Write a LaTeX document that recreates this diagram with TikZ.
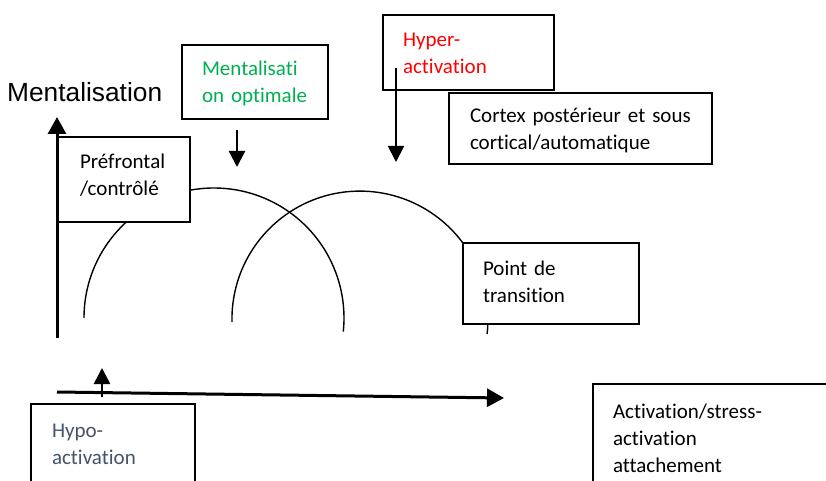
\documentclass[tikz,border=0pt]{standalone}
\usepackage{fontspec}
\setmainfont{Carlito}[Ligatures={NoCommon}]
\newfontfamily\arialfont{Liberation Sans}
\usetikzlibrary{arrows.meta}
\definecolor{optgreen}{RGB}{0,176,80}
\definecolor{hypoblue}{RGB}{68,84,106}

\begin{document}
\begin{tikzpicture}[x=1pt, y=-1pt,
    box/.style ={draw, line width=1.7pt, fill=white, anchor=north west, outer sep=0pt,
      inner ysep=0pt, inner xsep=20pt, align=left, font=\fontsize{21}{27}\selectfont},
    axis/.style ={line width=3pt, -{Triangle[width=18pt,length=17pt]}},
    pointer/.style ={line width=2.3pt, -{Triangle[width=16pt,length=16pt]}},
    curve/.style ={line width=1.4pt}]
   \useasboundingbox (0,0) rectangle (826,481);
   \clip (0,0) rectangle (826,481);

   \draw[curve] (84,318) arc[start angle=180, end angle=366, radius=130];
   \draw[curve] (232,322) arc[start angle=178.7, end angle=366.7, radius=128];

   \node[box, inner xsep=23pt, text width=87pt, text height=31pt, text depth=54pt] (pref) at (57,137) {Préfrontal\\/contrôlé};
   \node[box, text=optgreen, text width=106pt, text height=31pt, text depth=43pt] (opt) at (182,45) {Mentalisati\\on optimale};
   \node[box, text=red, text width=131pt, text height=32pt, text depth=43pt] (hyper) at (383,15) {Hyper-\\activation};
   \node[box, inner xsep=21pt, text width=221pt, text height=30pt, text depth=41pt] (cortex) at (449,93) {Cortex postérieur et sous\\cortical/automatique};
   \node[box, text width=136pt, text height=32pt, text depth=49pt] (trans) at (463,243) {Point de\\transition};
   \node[box, text=hypoblue, inner xsep=21pt, text width=122pt, text height=33pt, text depth=100pt] (hypo) at (31,404) {Hypo-\\activation};
   \node[box, text width=260pt, text height=34pt, text depth=100pt] (stress) at (593,384) {Activation/stress-\\activation\\attachement};

   \node[anchor=base west, inner sep=0pt, font=\arialfont\fontsize{26.3}{30}\selectfont] (mlabel) at (7,102) {Mentalisation};

   \coordinate (yfoot) at (57,338);
   \coordinate (ytip) at (57,117);
   \coordinate (xfoot) at (57,392);
   \coordinate (xtip) at (504,398);
   \coordinate (hypofoot) at (102,397);
   \coordinate (hypotip) at (102,368);
   \coordinate (optfoot) at (237,130);
   \coordinate (opttip) at (237,167);
   \coordinate (hyperfoot) at (396,68);
   \coordinate (hypertip) at (396,162);

   \draw[pointer] (optfoot) to (opttip);
   \draw[pointer, line width=2pt] (hyperfoot) to (hypertip);
   \draw[pointer, line width=2.6pt] (hypofoot) to (hypotip);

   \draw[axis] (yfoot) to (ytip);
   \draw[axis] (xfoot) to (xtip);
 \end{tikzpicture}
\end{document}
